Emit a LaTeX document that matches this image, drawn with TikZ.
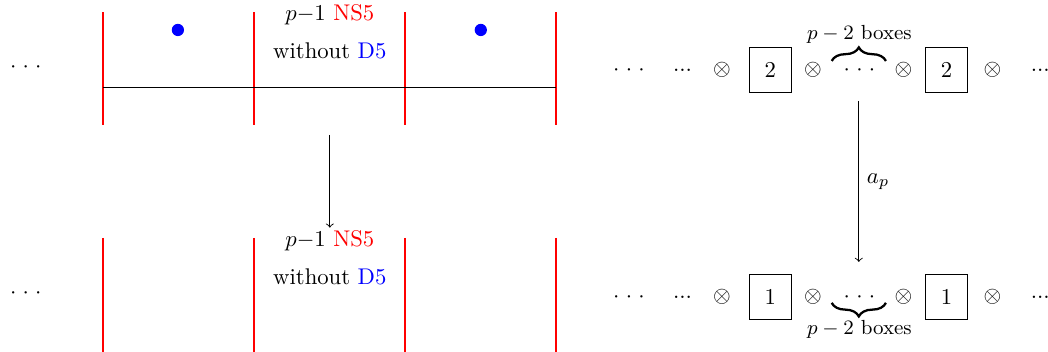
\documentclass[tikz,border=0pt]{standalone}
\usetikzlibrary{decorations.pathreplacing}
\newcommand{\wdots}{${\cdot}\;{\cdot}\;{\cdot}$}
\begin{document}
\begin{tikzpicture}[
    % Red NS5 branes
    ns/.style={draw=red, thick},
    % Blue D5 dots
    dfive/.style={circle, fill=blue, inner sep=0pt, minimum size=0.19cm},
    % Brane labels
    lbl/.style={inner sep=1pt},
    % Boxes in the product
    gbox/.style={draw, minimum width=0.66cm, minimum height=0.7cm},
    % Curly braces and their labels
    brace/.style={decorate, decoration={brace, amplitude=0.21cm}, line width=1pt},
    blabel/.style={font=\small},
    % Plain arrow
    arrow/.style={->}
  ]

  \useasboundingbox (0,0) rectangle (16.23,-5.45);

  % TOP BRANE PICTURE
  \draw[ns] (1.594,-0.186) -- (1.594,-1.935);
  \draw[ns] (3.932,-0.186) -- (3.932,-1.935);
  \draw[ns] (6.269,-0.186) -- (6.269,-1.935);
  \draw[ns] (8.607,-0.186) -- (8.607,-1.935);

  \coordinate (d3l) at (1.594,-1.347);
  \coordinate (d3r) at (8.607,-1.347);
  \draw (d3l) -- (d3r);

  \node (ldotsT) at (0.40,-1.037) {\wdots};
  \node[dfive] (d5a) at (2.755,-0.464) {};
  \node[dfive] (d5b) at (7.446,-0.464) {};
  \node[lbl] (ns5T) at (5.108,-0.235) {$p{-}1$ \textcolor{red}{NS5}};
  \node[lbl] (woT) at (5.108,-0.785) {without \textcolor{blue}{D5}};

  % BOTTOM BRANE PICTURE
  \draw[ns] (1.594,-3.684) -- (1.594,-5.45);
  \draw[ns] (3.932,-3.684) -- (3.932,-5.45);
  \draw[ns] (6.269,-3.684) -- (6.269,-5.45);
  \draw[ns] (8.607,-3.684) -- (8.607,-5.45);

  \node (ldotsB) at (0.40,-4.55) {\wdots};
  \node[lbl] (ns5B) at (5.108,-3.725) {$p{-}1$ \textcolor{red}{NS5}};
  \node[lbl] (woB) at (5.108,-4.295) {without \textcolor{blue}{D5}};

  \coordinate (larr) at (5.108,-2.09);
  \draw[arrow] (larr) -- (ns5B);

  % TOP PRODUCT
  \node (rcdT) at (9.74,-1.084) {\wdots};
  \node (rldT) at (10.57,-1.084) {...};
  \node (ot1T) at (11.18,-1.084) {$\otimes$};
  \node[gbox] (bx1T) at (11.93,-1.084) {2};
  \node (ot2T) at (12.59,-1.084) {$\otimes$};
  \node (mdT) at (13.31,-1.084) {\wdots};
  \node (ot3T) at (13.99,-1.084) {$\otimes$};
  \node[gbox] (bx2T) at (14.66,-1.084) {2};
  \node (ot4T) at (15.37,-1.084) {$\otimes$};
  \node (rrdT) at (16.11,-1.084) {...};

  \coordinate (brTl) at (12.88,-0.944);
  \coordinate (brTr) at (13.72,-0.944);
  \draw[brace] (brTl) -- (brTr);
  \node[blabel] (brTlab) at (13.31,-0.54) {$p-2$ boxes};

  % BOTTOM PRODUCT
  \node (rcdB) at (9.74,-4.60) {\wdots};
  \node (rldB) at (10.57,-4.60) {...};
  \node (ot1B) at (11.18,-4.60) {$\otimes$};
  \node[gbox] (bx1B) at (11.93,-4.60) {1};
  \node (ot2B) at (12.59,-4.60) {$\otimes$};
  \node (mdB) at (13.31,-4.60) {\wdots};
  \node (ot3B) at (13.99,-4.60) {$\otimes$};
  \node[gbox] (bx2B) at (14.66,-4.60) {1};
  \node (ot4B) at (15.37,-4.60) {$\otimes$};
  \node (rrdB) at (16.11,-4.60) {...};

  \coordinate (brBl) at (12.88,-4.69);
  \coordinate (brBr) at (13.72,-4.69);
  \draw[brace] (brBr) -- (brBl);
  \node[blabel] (brBlab) at (13.31,-5.10) {$p-2$ boxes};

  % Map between the two products
  \coordinate (rarT) at (13.30,-1.563);
  \coordinate (rarB) at (13.30,-4.056);
  \draw[arrow] (rarT) -- node[right] {$a_p$} (rarB);

\end{tikzpicture}
\end{document}
